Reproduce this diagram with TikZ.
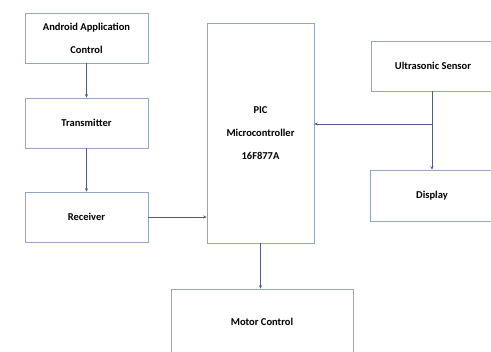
\documentclass[tikz,border=0pt]{standalone}
\usepackage{fontspec}
\setmainfont{Carlito}
\usetikzlibrary{arrows.meta,calc,positioning}

\definecolor{boxline}{RGB}{150,165,195}
\definecolor{wireline}{RGB}{80,90,130}

\begin{document}
\begin{tikzpicture}[x=1pt, y=-1pt,
    every node/.style={font=\fontsize{10.5}{23}\selectfont\bfseries},
    block/.style={draw=boxline, line width=0.6pt, fill=white, align=center, inner sep=0pt},
    wire/.style={draw=wireline, line width=0.8pt, -{Stealth[length=3.5pt,width=3pt]}}]
    % Background
    \useasboundingbox (0,0) rectangle (491,352);
    \clip (0,0) rectangle (491,352);
    % Left column
    \node[block, minimum width=123pt, minimum height=50pt] (android) at (86.5,38) {Android Application\\Control};
    \node[block, minimum width=123pt, minimum height=50pt] (trans) at (86.5,123) {Transmitter};
    \node[block, minimum width=123pt, minimum height=50pt] (recv) at (86.5,217) {Receiver};
    % Controller
    \node[block, minimum width=107pt, minimum height=220pt] (pic) at (260.5,133) {PIC\\Microcontroller\\16F877A};
    % Right column
    \node[block, minimum width=124pt, minimum height=50pt] (ultra) at (433,66) {Ultrasonic Sensor};
    \node[block, minimum width=124pt, minimum height=51pt] (disp) at (432,195.5) {Display};
    % Motor
    \node[block, minimum width=182pt, minimum height=72pt] (motor) at (262,325) {\raisebox{7pt}{Motor Control}};
    \coordinate (jn) at (ultra.south |- 0,124);
    % Connections
    \draw[wire] (android) -- (trans);
    \draw[wire] (trans) -- (recv);
    \draw[wire] (recv) -- (recv -| pic.west);
    \draw[wire] (ultra.south -| disp.north) -- (disp.north);
    \draw[wire] (jn -| disp.north) -- (jn -| pic.east);
    \draw[wire] (pic.south) -- (pic.south |- motor.north);
\end{tikzpicture}
\end{document}
